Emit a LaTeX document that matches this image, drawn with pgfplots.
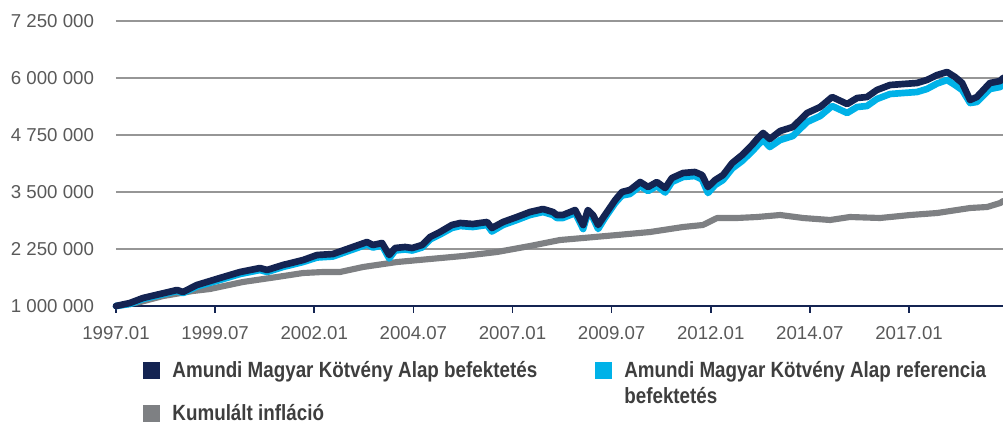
\documentclass[border=0pt]{standalone}
\usepackage{fontspec}
\setmainfont{Liberation Sans}
\newfontfamily\legendfont[FakeStretch=0.855]{Liberation Sans}
\usepackage{pgfplots}
\pgfplotsset{compat=1.18}

\definecolor{fundnavy}{RGB}{20,36,82}
\definecolor{refcyan}{RGB}{0,178,232}
\definecolor{inflgray}{RGB}{126,128,131}
\definecolor{gridgray}{RGB}{150,150,150}
\definecolor{labelgray}{RGB}{89,89,89}
\definecolor{legendtext}{RGB}{62,62,62}

\begin{document}
\begin{tikzpicture}
\begin{axis}[
    name=ax,
    scale only axis, width=665.25pt, height=213.75pt,
    xmin=1997, xmax=2019.37, ymin=1000000, ymax=7250000,
    axis lines*=left,
    y axis line style={draw=none},
    x axis line style={fundnavy, line width=1.2pt},
    xtick={1997,1999.5,2002,2004.5,2007,2009.5,2012,2014.5,2017},
    xticklabels={1997.01,1999.07,2002.01,2004.07,2007.01,2009.07,2012.01,2014.07,2017.01},
    ytick={1000000,2250000,3500000,4750000,6000000,7250000},
    yticklabels={1 000 000,2 250 000,3 500 000,4 750 000,6 000 000,7 250 000},
    scaled y ticks=false,
    tick align=outside, major tick length=5pt,
    xtick style={fundnavy, line width=1.2pt},
    ytick style={draw=none},
    ymajorgrids, grid style={gridgray, line width=0.9pt},
    tick label style={font=\fontsize{14}{17}\selectfont, text=labelgray},
    xticklabel style={yshift=-7pt},
    yticklabel style={xshift=-8pt},
    clip=false,
    legend columns=2,
    legend cell align=left,
    legend image code/.code={\fill[#1] (0pt,-6pt) rectangle (12pt,6pt);},
    legend style={at={(0,0)}, anchor=north west, xshift=20.25pt, yshift=-39pt,
        draw=none, fill=none, inner sep=0pt,
        font=\legendfont\bfseries\fontsize{16.5}{20}\selectfont, text=legendtext,
        row sep=14.75pt,
        /tikz/every odd column/.append style={column sep=7.5pt}},
]
  % legend order: fund, reference, inflation
  \addlegendimage{fundnavy}
  \addlegendentry{\makebox[315pt][l]{Amundi Magyar Kötvény Alap befektetés}}
  \addlegendimage{refcyan}
  \addlegendentry{\raisebox{0pt}[\height][0pt]{\parbox[t]{300pt}{Amundi Magyar Kötvény Alap referencia\\befektetés}}}
  \addlegendimage{inflgray}
  \addlegendentry{Kumulált infláció}

  % cumulated inflation
  \addplot[inflgray, line width=4.6pt, line join=round, line cap=round, forget plot] coordinates {
    (1997.00,1000000) (1997.61,1087700) (1998.19,1219300) (1998.94,1329000) (1999.37,1372800)
    (2000.20,1526300) (2001.06,1636000) (2001.72,1723700) (2002.22,1745600) (2002.65,1745600)
    (2003.23,1855300) (2004.09,1964900) (2004.92,2030700) (2005.75,2096500) (2006.61,2184200)
    (2007.44,2315800) (2008.20,2447400) (2008.78,2491200) (2009.64,2557000) (2010.47,2622800)
    (2011.30,2732500) (2011.80,2776300) (2012.16,2929800) (2012.66,2929800) (2013.17,2951800)
    (2013.75,2995600) (2014.33,2929800) (2015.01,2886000) (2015.51,2951800) (2016.27,2929800)
    (2017.03,2995600) (2017.71,3039500) (2018.54,3149100) (2018.97,3171100) (2019.30,3258800)
    (2019.37,3302700)};

  % reference investment
  \addplot[refcyan, line width=5pt, line join=round, line cap=round, forget plot] coordinates {
    (1997.00,1000000) (1997.35,1044000) (1997.68,1153000) (1998.11,1241000) (1998.54,1329000)
    (1998.69,1285000) (1999.04,1427600) (1999.62,1570100) (2000.13,1701700) (2000.63,1789100)
    (2000.81,1745600) (2001.21,1855100) (2001.72,1964900) (2002.07,2063200) (2002.47,2085200)
    (2002.90,2217200) (2003.33,2348700) (2003.48,2282900) (2003.71,2326800) (2003.89,2041600)
    (2004.04,2217200) (2004.29,2239200) (2004.47,2217200) (2004.72,2282900) (2004.92,2458400)
    (2005.17,2568000) (2005.47,2710500) (2005.68,2754400) (2006.00,2732500) (2006.36,2776300)
    (2006.48,2633700) (2006.76,2776300) (2007.11,2886000) (2007.44,2995600) (2007.77,3061400)
    (2008.02,2995600) (2008.12,2929800) (2008.27,2929800) (2008.58,3039500) (2008.78,2688600)
    (2008.90,3039500) (2009.03,2929800) (2009.16,2688600) (2009.33,2929800) (2009.59,3258800)
    (2009.76,3423200) (2009.96,3456200) (2010.22,3631600) (2010.42,3522000) (2010.64,3631600)
    (2010.85,3489000) (2011.02,3719300) (2011.30,3829000) (2011.60,3850900) (2011.78,3774100)
    (2011.93,3478100) (2012.11,3653500) (2012.31,3763200) (2012.54,4015400) (2012.79,4179800)
    (2013.04,4388200) (2013.19,4530700) (2013.32,4640400) (2013.49,4486900) (2013.75,4640400)
    (2014.07,4728100) (2014.43,5035100) (2014.76,5166700) (2015.06,5386000) (2015.44,5232500)
    (2015.69,5364100) (2015.94,5386000) (2016.19,5539500) (2016.52,5649100) (2016.85,5671100)
    (2017.20,5693000) (2017.45,5758800) (2017.71,5879400) (2017.96,5956200) (2018.16,5846500)
    (2018.34,5736900) (2018.54,5451800) (2018.71,5473800) (2019.04,5758800) (2019.30,5802700)
    (2019.37,5868400)};

  % fund investment
  \addplot[fundnavy, line width=5pt, line join=round, line cap=round, forget plot] coordinates {
    (1997.00,1000000) (1997.35,1066000) (1997.68,1175000) (1998.11,1263000) (1998.54,1351000)
    (1998.69,1307000) (1999.04,1460500) (1999.62,1614000) (2000.13,1745600) (2000.63,1833000)
    (2000.81,1789500) (2001.21,1899000) (2001.72,2008800) (2002.07,2118000) (2002.47,2140000)
    (2002.90,2272000) (2003.33,2403500) (2003.48,2337700) (2003.71,2381600) (2003.89,2118400)
    (2004.04,2272000) (2004.29,2294000) (2004.47,2272000) (2004.72,2337700) (2004.92,2513200)
    (2005.17,2622800) (2005.47,2776300) (2005.68,2820200) (2006.00,2798300) (2006.36,2842100)
    (2006.48,2710500) (2006.76,2842100) (2007.11,2951800) (2007.44,3061400) (2007.77,3127200)
    (2008.02,3061400) (2008.12,2995600) (2008.27,2995600) (2008.58,3105300) (2008.78,2776300)
    (2008.90,3105300) (2009.03,2995600) (2009.16,2776300) (2009.33,2995600) (2009.59,3324600)
    (2009.76,3500000) (2009.96,3543900) (2010.22,3719300) (2010.42,3609700) (2010.64,3719300)
    (2010.85,3587700) (2011.02,3807000) (2011.30,3916700) (2011.60,3938600) (2011.78,3872800)
    (2011.93,3609700) (2012.11,3763200) (2012.31,3872800) (2012.54,4136000) (2012.79,4311400)
    (2013.04,4530700) (2013.19,4684200) (2013.32,4793900) (2013.49,4662300) (2013.75,4837800)
    (2014.07,4925500) (2014.43,5232500) (2014.76,5364100) (2015.06,5583400) (2015.44,5429900)
    (2015.69,5561400) (2015.94,5583400) (2016.19,5736900) (2016.52,5846500) (2016.85,5868500)
    (2017.20,5890400) (2017.45,5956200) (2017.71,6065800) (2017.96,6131600) (2018.16,6021900)
    (2018.34,5890400) (2018.54,5517600) (2018.71,5583400) (2019.04,5890400) (2019.30,5934300)
    (2019.37,6000000)};
\end{axis}
\pgfresetboundingbox
\path[use as bounding box] ([xshift=-87pt,yshift=-89.25pt]ax.south west) rectangle ([yshift=15.75pt]ax.north east);
\end{tikzpicture}
\end{document}
